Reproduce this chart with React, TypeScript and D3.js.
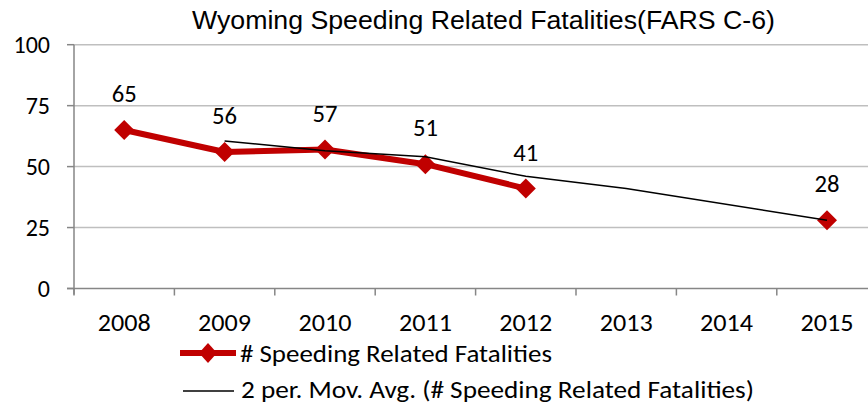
import React from "react";
import * as d3 from "d3";

const categories = ["2008", "2009", "2010", "2011", "2012", "2013", "2014", "2015"];
const fatalities: (number | null)[] = [65, 56, 57, 51, 41, null, null, 28];
const movingAvg: (number | null)[] = [null, 60.5, 56.5, 54, 46, 41, null, 28];
const yTicks = [0, 25, 50, 75, 100];
const title = "Wyoming Speeding Related Fatalities(FARS C-6)";
const legend1 = "# Speeding Related Fatalities";
const legend2 = "2 per. Mov. Avg. (# Speeding Related Fatalities)";

const W = 868;
const H = 407;
const left = 74;
const band = 100.4;
const top = 44.7;
const bottom = 288.5;
const FONT = "Carlito, Calibri, Lato, 'Open Sans', sans-serif";

export default function App() {
  const x = d3
    .scaleBand<string>()
    .domain(categories)
    .range([left, left + band * categories.length])
    .paddingInner(0)
    .paddingOuter(0);
  const cx = (c: string) => (x(c) as number) + x.bandwidth() / 2;
  const y = d3.scaleLinear().domain([0, 100]).range([bottom, top]);

  const lineGen = d3
    .line<{ c: string; v: number | null }>()
    .defined((d) => d.v !== null)
    .x((d) => cx(d.c))
    .y((d) => y(d.v as number));

  const redData = categories.map((c, i) => ({ c, v: fatalities[i] }));
  const avgData = categories
    .map((c, i) => ({ c, v: movingAvg[i] }))
    .filter((d) => d.v !== null);

  const diamond = (px: number, py: number, rx: number, ry: number) =>
    `M${px},${py - ry}L${px + rx},${py}L${px},${py + ry}L${px - rx},${py}Z`;

  const boundaries = d3.range(categories.length + 1).map((i) => left + i * band);

  return (
    <svg
      width={W}
      height={H}
      style={{ position: "absolute", left: 0, top: 0, background: "#fff" }}
    >
      <rect x={0} y={0} width={W} height={H} fill="#fff" />
      <text
        x={483.5}
        y={29}
        textAnchor="middle"
        fontFamily="'Liberation Sans', Arial, sans-serif"
        fontSize={26}
        fill="#000"
        textLength={583}
        lengthAdjust="spacingAndGlyphs"
      >
        {title}
      </text>
      {yTicks.map((t) =>
        t === 0 ? null : (
          <line
            key={"g" + t}
            x1={left}
            x2={W}
            y1={y(t)}
            y2={y(t)}
            stroke="#BFBFBF"
            strokeWidth={1.5}
          />
        )
      )}
      <line x1={left} x2={left} y1={top} y2={bottom + 6} stroke="#868686" strokeWidth={1.5} />
      {yTicks.map((t) => (
        <g key={"yt" + t}>
          <line x1={left - 7} x2={left} y1={y(t)} y2={y(t)} stroke="#868686" strokeWidth={1.5} />
          <text
            x={50}
            y={y(t) + 8.5}
            textAnchor="end"
            fontFamily={FONT}
            fontSize={24}
            fill="#000"
          >
            {t}
          </text>
        </g>
      ))}
      <line x1={left - 7} x2={W} y1={bottom} y2={bottom} stroke="#868686" strokeWidth={1.5} />
      {boundaries.map((b, i) => (
        <line key={"xt" + i} x1={b} x2={b} y1={bottom} y2={bottom + 7} stroke="#868686" strokeWidth={1.5} />
      ))}
      {categories.map((c) => (
        <text
          key={"xl" + c}
          x={cx(c)}
          y={331}
          textAnchor="middle"
          fontFamily={FONT}
          fontSize={24}
          fill="#000"
          textLength={53}
          lengthAdjust="spacingAndGlyphs"
        >
          {c}
        </text>
      ))}
      <path d={lineGen(redData) || ""} fill="none" stroke="#C00000" strokeWidth={6} strokeLinejoin="round" />
      {redData
        .filter((d) => d.v !== null)
        .map((d) => (
          <path key={"m" + d.c} d={diamond(cx(d.c), y(d.v as number), 10, 10)} fill="#C00000" />
        ))}
      <path d={lineGen(avgData) || ""} fill="none" stroke="#000" strokeWidth={1.5} />
      {redData
        .filter((d) => d.v !== null)
        .map((d) => (
          <text
            key={"dl" + d.c}
            x={cx(d.c)}
            y={y(d.v as number) - 28}
            textAnchor="middle"
            fontFamily={FONT}
            fontSize={24}
            fill="#000"
            textLength={25}
            lengthAdjust="spacingAndGlyphs"
          >
            {d.v}
          </text>
        ))}
      <line x1={180} x2={236} y1={353} y2={353} stroke="#C00000" strokeWidth={6} />
      <path d={diamond(208, 353, 9, 10)} fill="#C00000" />
      <text x={240} y={362} fontFamily={FONT} fontSize={24} fill="#000" textLength={312} lengthAdjust="spacingAndGlyphs">
        {legend1}
      </text>
      <line x1={183} x2={234} y1={391} y2={391} stroke="#000" strokeWidth={1.5} />
      <text x={241} y={398} fontFamily={FONT} fontSize={24} fill="#000" textLength={513} lengthAdjust="spacingAndGlyphs">
        {legend2}
      </text>
    </svg>
  );
}
